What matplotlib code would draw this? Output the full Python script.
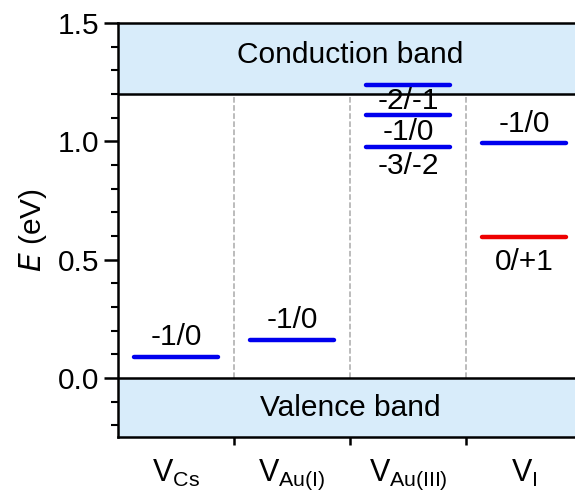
import matplotlib.pyplot as plt
from matplotlib.ticker import MultipleLocator

plt.rcParams['font.family'] = ['Liberation Sans', 'DejaVu Sans']

# defect names and transition levels (eV)
sites = ['$\\mathregular{V_{Cs}}$', '$\\mathregular{V_{Au(I)}}$',
         '$\\mathregular{V_{Au(III)}}$', '$\\mathregular{V_{I}}$']
level_site = [0, 1, 2, 2, 2, 3, 3]
level_energy = [0.09, 0.16, 1.24, 1.11, 0.975, 0.995, 0.595]
level_color = ['#0000ee', '#0000ee', '#0000ee', '#0000ee', '#0000ee', '#0000ee', '#ee0000']

# labels: site, energy of text, text
label_site = [0, 1, 2, 2, 2, 3, 3]
label_y = [0.115, 0.185, 1.17, 1.04, 0.895, 1.015, 0.55]
label_text = ['-1/0', '-1/0', '-2/-1', '-1/0', '-3/-2', '-1/0', '0/+1']
label_va = ['bottom', 'bottom', 'center', 'center', 'center', 'bottom', 'top']

cbm = 1.2
ymin, ymax = -0.25, 1.5
fs = 21.5

fig = plt.figure(figsize=(5.75, 4.95), dpi=100)
ax = fig.add_axes([0.205, 0.117, 0.807, 0.8365])

ax.axhspan(cbm, ymax, color='#d8ecfa', zorder=0)
ax.axhspan(ymin, 0, color='#d8ecfa', zorder=0)
ax.axhline(cbm, color='black', lw=1.8, zorder=3)
ax.axhline(0, color='black', lw=1.8, zorder=3)

for b in [0.5, 1.5, 2.5]:
    ax.plot([b, b], [0, cbm], ls='--', color='#aaaaaa', lw=1.1, zorder=1)

for s, e, c in zip(level_site, level_energy, level_color):
    ax.plot([s - 0.36, s + 0.36], [e, e], color=c, lw=3.2, solid_capstyle='round', zorder=4)

for s, y, t, va in zip(label_site, label_y, label_text, label_va):
    ax.text(s, y, t, ha='center', va=va, fontsize=fs, zorder=5)

ax.text(1.5, 1.365, 'Conduction band', ha='center', va='center', fontsize=fs)
ax.text(1.5, -0.125, 'Valence band', ha='center', va='center', fontsize=fs)

ax.set_xlim(-0.5, 3.5)
ax.set_ylim(ymin, ymax)
ax.set_xticks([0.5, 1.5, 2.5])
ax.set_xticklabels([])
ax.set_xticks(range(len(sites)), minor=True)
ax.set_xticklabels(sites, minor=True, fontsize=22)
ax.tick_params(axis='x', which='minor', length=0, pad=15)
ax.tick_params(axis='x', which='major', length=6, width=1.8)

ax.set_yticks([0.0, 0.5, 1.0, 1.5])
ax.set_yticklabels(['0.0', '0.5', '1.0', '1.5'], fontsize=fs)
ax.yaxis.set_minor_locator(MultipleLocator(0.1))
ax.tick_params(axis='y', which='major', length=10, width=1.8)
ax.tick_params(axis='y', which='minor', length=5, width=1.5)

ax.set_ylabel('$\\mathit{E}$ (eV)', fontsize=fs, labelpad=6)

for sp in ax.spines.values():
    sp.set_linewidth(1.8)

fig.savefig('out.png', dpi=100)
